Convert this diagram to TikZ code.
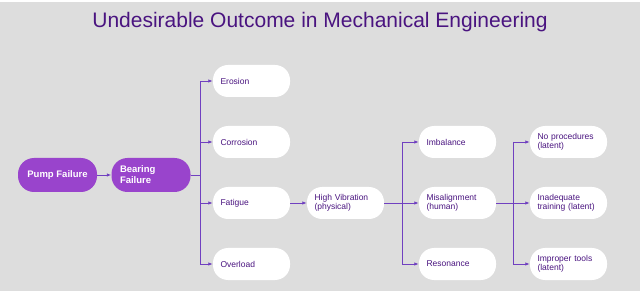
\documentclass[tikz,border=0pt]{standalone}
\usepackage{fontspec}
\setmainfont{Liberation Sans}
\usetikzlibrary{arrows.meta}
\definecolor{bg}{HTML}{DDDDDD}
\definecolor{txt}{HTML}{4A1480}
\definecolor{redbox}{HTML}{9944CC}
\definecolor{lnc}{HTML}{7040C0}
\tikzset{
  wbox/.style={draw=none, fill=white, rounded corners=15pt, minimum width=77pt, minimum height=32pt,
    text width=62pt, align=left, text=txt, font=\fontsize{8.5}{9.5}\selectfont, inner sep=0pt},
  pbox/.style={draw=none, fill=redbox, rounded corners=16pt, minimum width=79pt, minimum height=34pt,
    text=white, font=\fontsize{9.5}{11}\selectfont\bfseries, inner sep=0pt},
  conn/.style={draw=lnc, line width=0.8pt, -{Latex[length=4.5pt,width=3.5pt]}},
  lin/.style={draw=lnc, line width=0.8pt}
}
\begin{document}
\begin{tikzpicture}[x=1pt,y=-1pt]
\fill[bg] (0,0) rectangle (640,291);
\fill[white] (0,0) rectangle (640,2);
\useasboundingbox (0,0) rectangle (640,291);
\node[text=txt, font=\fontsize{21}{24}\selectfont] (title) at (320,22) {Undesirable Outcome in Mechanical Engineering};
\node[pbox] (pump) at (57.5,175) {Pump Failure};
\node[pbox, text width=62pt, align=left] (bear) at (151,175) {Bearing\\Failure};
\node[wbox] (ero) at (251.5,81) {Erosion};
\node[wbox] (cor) at (251.5,142) {Corrosion};
\node[wbox] (fat) at (251.5,203) {Fatigue};
\node[wbox] (ovl) at (251.5,264) {Overload};
\node[wbox] (hv) at (345.5,203) {High Vibration\\(physical)};
\node[wbox] (imb) at (457.5,142) {Imbalance};
\node[wbox] (mis) at (457.5,203) {Misalignment\\(human)};
\node[wbox] (res) at (457.5,264) {Resonance};
\node[wbox] (nop) at (568.5,142) {No procedures\\(latent)};
\node[wbox] (ina) at (568.5,203) {Inadequate\\training (latent)};
\node[wbox] (imp) at (568.5,264) {Improper tools\\(latent)};
\coordinate (j1) at (200,175);
\coordinate (j2) at (402,203);
\coordinate (j3) at (513,203);
\draw[conn] (pump) -- (bear);
\draw[lin] (bear.east) -- (j1);
\draw[lin] (j1 |- ero) -- (j1 |- ovl);
\foreach \n in {ero,cor,fat,ovl} \draw[conn] (j1 |- \n) -- (\n.west);
\draw[conn] (fat) -- (hv);
\draw[lin] (hv.east) -- (j2);
\draw[lin] (j2 |- imb) -- (j2 |- res);
\foreach \n in {imb,mis,res} \draw[conn] (j2 |- \n) -- (\n.west);
\draw[lin] (mis.east) -- (j3);
\draw[lin] (j3 |- nop) -- (j3 |- imp);
\foreach \n in {nop,ina,imp} \draw[conn] (j3 |- \n) -- (\n.west);
\end{tikzpicture}
\end{document}
